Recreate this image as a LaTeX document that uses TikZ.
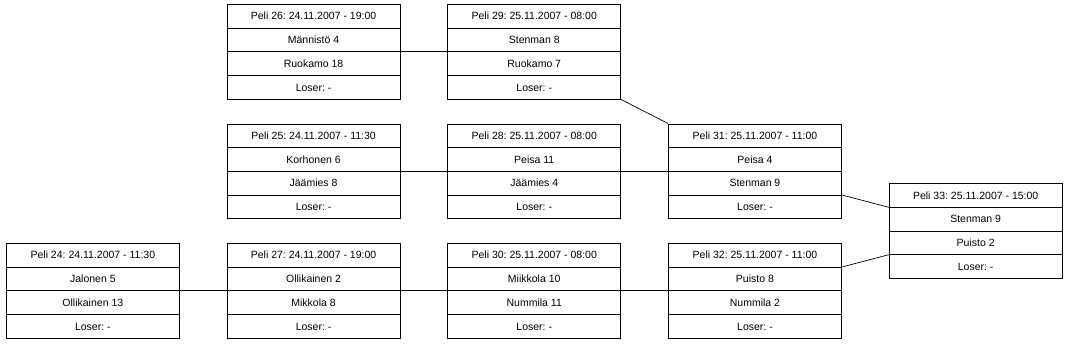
\documentclass[tikz,border=0pt]{standalone}
\usepackage{fontspec}
\setmainfont{Liberation Sans}
\usepackage{tikz}
\usetikzlibrary{shapes.multipart,positioning,calc}

\frenchspacing
\newcommand{\rowstrut}{\rule[-7.75pt]{0pt}{23pt}}
\newcommand{\game}[4]{\rowstrut #1\nodepart{two}\rowstrut #2%
  \nodepart{three}\rowstrut #3\nodepart{four}\rowstrut #4}

\begin{document}
\begin{tikzpicture}[x=1pt, y=-1pt,
    game/.style={draw, rectangle split, rectangle split parts=4,
                 minimum width=173pt, inner ysep=0pt, line width=0.7pt,
                 font=\fontsize{10.5}{12}\selectfont},
    link/.style={draw, line width=0.7pt},
    node distance=24pt and 47pt
  ]
    \useasboundingbox (0,0) rectangle (1067,343);

    \node[game, anchor=north west] (peli24) at (6,243)
      {\game{Peli 24: 24.11.2007 - 11:30}{Jalonen 5}{Ollikainen 13}{Loser: -}};
    \node[game, right=of peli24] (peli27)
      {\game{Peli 27: 24.11.2007 - 19:00}{Ollikainen 2}{Mikkola 8}{Loser: -}};
    \node[game, above=of peli27] (peli25)
      {\game{Peli 25: 24.11.2007 - 11:30}{Korhonen 6}{Jäämies 8}{Loser: -}};
    \node[game, above=of peli25] (peli26)
      {\game{Peli 26: 24.11.2007 - 19:00}{Männistö 4}{Ruokamo 18}{Loser: -}};
    \node[game, right=of peli26] (peli29)
      {\game{Peli 29: 25.11.2007 - 08:00}{Stenman 8}{Ruokamo 7}{Loser: -}};
    \node[game, right=of peli25] (peli28)
      {\game{Peli 28: 25.11.2007 - 08:00}{Peisa 11}{Jäämies 4}{Loser: -}};
    \node[game, right=of peli27] (peli30)
      {\game{Peli 30: 25.11.2007 - 08:00}{Miikkola 10}{Nummila 11}{Loser: -}};
    \node[game, right=of peli28] (peli31)
      {\game{Peli 31: 25.11.2007 - 11:00}{Peisa 4}{Stenman 9}{Loser: -}};
    \node[game, right=of peli30] (peli32)
      {\game{Peli 32: 25.11.2007 - 11:00}{Puisto 8}{Nummila 2}{Loser: -}};
    \coordinate (mid) at ($(peli31.east)!.5!(peli32.east)$);
    \node[game, right=of mid] (peli33)
      {\game{Peli 33: 25.11.2007 - 15:00}{Stenman 9}{Puisto 2}{Loser: -}};

    \draw[link] (peli26.two split east) -- (peli29.two split west);
    \draw[link] (peli29.south east) -- (peli31.north west);
    \draw[link] (peli25.two split east) -- (peli28.two split west);
    \draw[link] (peli28.two split east) -- (peli31.two split west);
    \draw[link] (peli24.two split east) -- (peli27.two split west);
    \draw[link] (peli27.two split east) -- (peli30.two split west);
    \draw[link] (peli30.two split east) -- (peli32.two split west);
    \draw[link] (peli31.three split east) -- (peli33.text split west);
    \draw[link] (peli32.text split east) -- (peli33.three split west);
  \end{tikzpicture}
\end{document}
